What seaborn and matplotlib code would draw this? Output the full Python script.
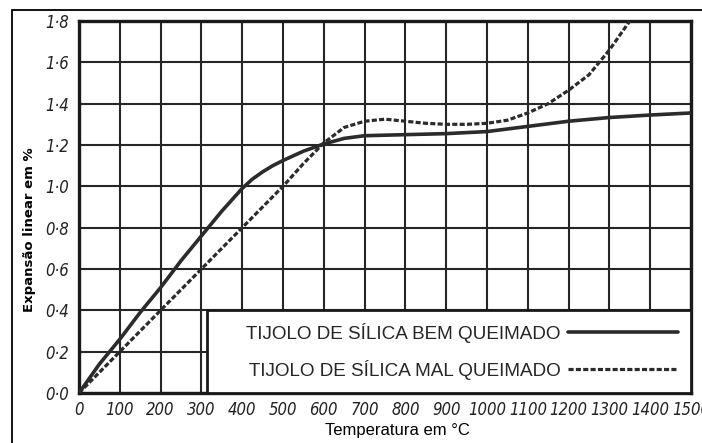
import matplotlib
matplotlib.use("Agg")
import matplotlib.pyplot as plt
import seaborn as sns
import pandas as pd
from matplotlib.lines import Line2D
from matplotlib.patches import Rectangle
from matplotlib import font_manager

# ---- data ----
temp_bem = [0, 50, 100, 150, 200, 250, 300, 350, 400, 425, 450, 475, 500, 550, 600, 650,
            700, 800, 900, 1000, 1100, 1200, 1300, 1400, 1500]
exp_bem = [0.0, 0.14, 0.26, 0.39, 0.51, 0.64, 0.76, 0.88, 0.99, 1.035, 1.07, 1.10, 1.125,
           1.17, 1.205, 1.232, 1.245, 1.25, 1.255, 1.265, 1.29, 1.315, 1.333, 1.345, 1.355]

temp_mal = [0, 100, 200, 300, 400, 450, 500, 550, 600, 650, 700, 750, 800, 850,
            900, 950, 1000, 1050, 1100, 1150, 1200, 1250, 1300, 1350]
exp_mal = [0.0, 0.2, 0.4, 0.6, 0.8, 0.9, 1.0, 1.11, 1.21, 1.285, 1.315, 1.325,
           1.315, 1.305, 1.30, 1.30, 1.305, 1.32, 1.355, 1.40, 1.465, 1.54, 1.66, 1.80]

x_ticks = list(range(0, 1501, 100))
x_tick_labels = [str(v) for v in x_ticks]
y_ticks = [0.0, 0.2, 0.4, 0.6, 0.8, 1.0, 1.2, 1.4, 1.6, 1.8]
y_tick_labels = ["0·0", "0·2", "0·4", "0·6", "0·8", "1·0", "1·2", "1·4", "1·6", "1·8"]

label_bem = "TIJOLO DE SÍLICA BEM QUEIMADO"
label_mal = "TIJOLO DE SÍLICA MAL QUEIMADO"
x_label = "Temperatura em °C"
y_label = "Expansão linear em %"

df_bem = pd.DataFrame({"t": temp_bem, "e": exp_bem})
df_mal = pd.DataFrame({"t": temp_mal, "e": exp_mal})

sns.set_theme(style="white")
plt.rcParams["font.family"] = ["DejaVu Sans"]

# condensed italic face for tick labels if available
names = {f.name for f in font_manager.fontManager.ttflist}
tick_family = "DejaVu Sans"
tick_stretch = "normal"
tick_size = 11
if "Liberation Sans Narrow" in names:
    tick_family, tick_size = "Liberation Sans Narrow", 13
elif any(f.name == "DejaVu Sans" and str(f.stretch) in ("condensed", "semi-condensed")
         for f in font_manager.fontManager.ttflist):
    tick_stretch, tick_size = "condensed", 12
elif "DejaVu Sans Condensed" in names:
    tick_family, tick_size = "DejaVu Sans Condensed", 12

fig = plt.figure(figsize=(7.02, 4.43), dpi=100)
ax = fig.add_axes([79 / 702, 1 - 393 / 443, 612 / 702, 372 / 443])

curve_color = "#2b2b2b"
lw = 2.3
dash = (1.6, 0.7)

sns.lineplot(data=df_bem, x="t", y="e", ax=ax, color=curve_color, lw=lw + 0.3,
             sort=False, zorder=3)
sns.lineplot(data=df_mal, x="t", y="e", ax=ax, color=curve_color, lw=lw,
             sort=False, zorder=3)
ax.lines[-1].set_dashes(dash)

ax.set_xlim(0, 1500)
ax.set_ylim(0, 1.8)
ax.set_xticks(x_ticks)
ax.set_xticklabels(x_tick_labels)
ax.set_yticks(y_ticks)
ax.set_yticklabels(y_tick_labels)

for lab in ax.get_xticklabels() + ax.get_yticklabels():
    lab.set_fontfamily(tick_family)
    lab.set_fontstretch(tick_stretch)
    lab.set_fontstyle("italic")
    lab.set_fontsize(tick_size)
    lab.set_color("#222222")
ax.tick_params(axis="both", length=0)
ax.tick_params(axis="x", pad=6)
ax.tick_params(axis="y", pad=7)

ax.grid(True, color="#262626", lw=1.5)
ax.set_axisbelow(True)
for s in ax.spines.values():
    s.set_color("#1a1a1a")
    s.set_linewidth(2.4)

ax.set_xlabel(x_label, fontsize=12, family="Liberation Sans", color="black")
ax.xaxis.set_label_coords(0.52, -0.08)
ax.set_ylabel(y_label, fontsize=9.5, fontweight="bold", color="black")
ax.yaxis.set_label_coords(-0.071, 0.438)

handles = [Line2D([], [], color=curve_color, lw=lw + 0.3),
           Line2D([], [], color=curve_color, lw=lw, dashes=dash)]
leg = ax.legend(handles, ["     " + label_bem, "     " + label_mal], loc="lower right",
                bbox_to_anchor=(1, 0), borderaxespad=0, markerfirst=False,
                handlelength=5.8, handletextpad=0.4, labelspacing=0.9,
                borderpad=0.7, fancybox=False, framealpha=1, facecolor="white",
                edgecolor="#1a1a1a", prop={"family": "Liberation Sans", "size": 13.6})
leg.get_frame().set_linewidth(2.0)
leg.set_zorder(5)

fig.add_artist(Rectangle((12 / 702, -0.1), 1.2, 1 - 10 / 443 + 0.1,
                         transform=fig.transFigure, fill=False,
                         edgecolor="black", lw=1.3))

fig.savefig("out.png", dpi=100)
